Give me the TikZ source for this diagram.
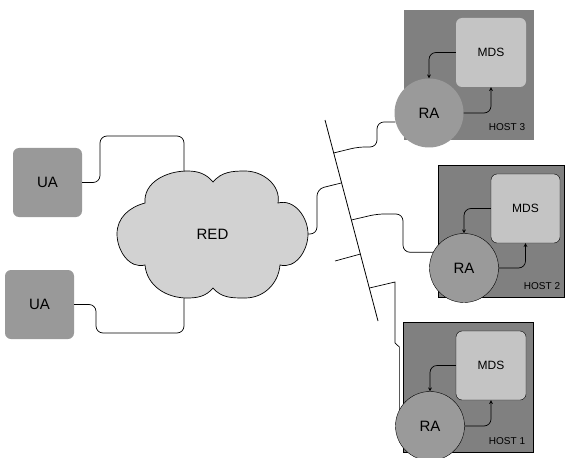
\documentclass[tikz,border=0pt]{standalone}
\usepackage{fontspec}
\setmainfont{Liberation Sans}
\usetikzlibrary{calc}
\definecolor{hostgray}{HTML}{808080}
\definecolor{ragray}{HTML}{9A9A9A}
\definecolor{mdsgray}{HTML}{C4C4C4}
\definecolor{cloudgray}{HTML}{D2D2D2}
\definecolor{uagray}{HTML}{999999}
\tikzset{
  host/.style={fill=hostgray, minimum width=130pt, minimum height=130pt, inner sep=0pt},
  mds/.style={fill=mdsgray, rounded corners=6pt, minimum width=70pt, minimum height=69pt, inner sep=0pt, font=\fontsize{12}{14}\selectfont},
  ra/.style={circle, fill=ragray, minimum size=69pt, inner sep=0pt, font=\fontsize{15}{18}\selectfont},
  ua/.style={fill=uagray, rounded corners=6pt, minimum size=69pt, inner sep=0pt, font=\fontsize{15}{18}\selectfont},
  hostlabel/.style={font=\fontsize{10}{12}\selectfont, inner sep=0pt},
  link/.style={rounded corners=7pt, line width=0.7pt},
  flow/.style={rounded corners=7pt, line width=0.7pt, ->, >=stealth},
}

\begin{document}
\begin{tikzpicture}[x=1pt, y=-1pt]
\useasboundingbox (0,0) rectangle (569,457);

\node[ua] (UA1) at (47.5,182.5) {UA};
\node[ua] (UA2) at (39.5,304.5) {UA};

% cloud
\draw[fill=cloudgray, line width=0.7pt]
  (145,203) to[out=95,in=180] (187,171) to[out=0,in=130] (213,182)
  to[out=50,in=180] (245,171) to[out=0,in=80] (278,203)
  to[out=15,in=90] (308,234) to[out=-90,in=-15] (280,265)
  to[out=-95,in=0] (245,298) to[out=180,in=-50] (213,288)
  to[out=-130,in=0] (187,298) to[out=180,in=-85] (145,265)
  to[out=-165,in=-90] (117,234) to[out=90,in=-165] cycle;
\node[font=\fontsize{15}{18}\selectfont] (red) at (212.5,234.5) {RED};
\coordinate (redtop) at (184,171.5);
\coordinate (redbot) at (184,298);
\coordinate (redeast) at (308,234);

\draw[link] (UA1.east) -| (100,136) -| (redtop);
\draw[link] (UA2.east) -| (96,333) -| (redbot);

% hosts
\node[host] (H3) at (469,75) {};
\node[host, draw, minimum width=126pt, minimum height=132pt] (H2) at (501,231) {};
\node[host, draw] (H1) at (468,387) {};

\node[mds] (MDS3) at (491,52.5) {MDS};
\node[mds, draw, minimum width=69pt] (MDS2) at (525.5,208.5) {MDS};
\node[mds, draw] (MDS1) at (491,365.5) {MDS};

\node[ra] (RA3) at (429,113) {RA};
\node[ra, draw] (RA2) at (464,268) {RA};
\node[ra, draw] (RA1) at (430,426) {RA};

\node[hostlabel] at (507,127) {HOST 3};
\node[hostlabel] at (542,286) {HOST 2};
\node[hostlabel] at (507,441) {HOST 1};

\draw[flow] (MDS3.west) -| (RA3.north);
\draw[flow] (RA3.east) -| (MDS3.south);
\draw[flow] (MDS2.west) -| (RA2.north);
\draw[flow] (RA2.east) -| (MDS2.south);
\draw[flow] (MDS1.west) -| (RA1.north);
\draw[flow] (RA1.east) -| (MDS1.south);

% bus
\coordinate (busA) at (325,120);
\coordinate (busB) at (378,321);
\draw[line width=0.8pt] (busA) -- (busB);
\coordinate (t1) at ($(busA)!0.164!(busB)$);
\coordinate (t2) at ($(busA)!0.313!(busB)$);
\coordinate (t3) at ($(busA)!0.4975!(busB)$);
\coordinate (t4) at ($(busA)!0.667!(busB)$);
\coordinate (t5) at ($(busA)!0.836!(busB)$);
\coordinate (stub) at (335,261);

\draw[link] (t1) -- (358,147) -- (377,147) |- (RA3.195);
\draw[link] (t2) -- (317,189) |- (redeast);
\draw[link] (t3) -- (377,214) -- (403,214) |- (RA2.153);
\draw[link] (t4) -- (stub);
\draw[line width=0.7pt] (t5) -- (395,282) -- (395,343) -- (RA1.152 |- 0,347) -- (RA1.152);

\end{tikzpicture}
\end{document}
